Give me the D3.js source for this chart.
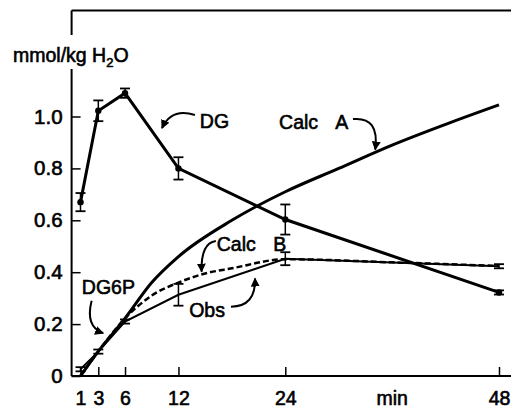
<!DOCTYPE html>
<html>
<head>
<meta charset="utf-8">
<script src="https://cdn.jsdelivr.net/npm/d3@7"></script>
<style>
  body { margin: 0; background: #fff; }
  text { font-family: "Liberation Sans", Arial, Helvetica, sans-serif; fill: #000; stroke: #000; stroke-width: 0.6px; }
</style>
</head>
<body>
<div class="chart"></div>
<script>
  const width = 511
  const height = 410

  // time points (min)
  const xTicks = [1, 3, 6, 12, 24, 48]
  const yTicks = [0, 0.2, 0.4, 0.6, 0.8, 1.0]

  // DG measured, mean and error
  const dgTime = [1, 3, 6, 12, 24, 48]
  const dgValue = [0.67, 1.022, 1.09, 0.80, 0.603, 0.322]
  const dgErr = [0.035, 0.04, 0.018, 0.043, 0.058, 0.008]

  // DG6P observed
  const obsTime = [1, 3, 6, 12, 24, 48]
  const obsValue = [0.026, 0.094, 0.21, 0.313, 0.452, 0.423]
  const obsErr = [0.008, 0.008, 0.008, 0.042, 0.025, 0.008]

  // calculated curves
  const calcATime = [1, 3, 6, 9, 12, 18, 24, 30, 36, 42, 48]
  const calcAValue = [0, 0.095, 0.222, 0.36, 0.46, 0.60, 0.71, 0.80, 0.89, 0.97, 1.045]
  const calcBTime = [1, 3, 6, 9, 12, 15, 18, 24, 36, 48]
  const calcBValue = [0, 0.095, 0.222, 0.31, 0.36, 0.395, 0.415, 0.45, 0.438, 0.424]

  const x = d3.scaleLinear().domain([0, 48]).range([71.6, 499])
  const y = d3.scaleLinear().domain([0, 1]).range([376, 116.5])
  const yTop = y.invert(10.5)

  const svg = d3.select('.chart').append('svg')
    .attr('width', width)
    .attr('height', height)

  svg.append('defs').append('marker')
    .attr('id', 'head')
    .attr('viewBox', '0 0 10 10')
    .attr('refX', 9).attr('refY', 5)
    .attr('markerWidth', 9).attr('markerHeight', 9)
    .attr('markerUnits', 'userSpaceOnUse')
    .attr('orient', 'auto')
    .append('path')
    .attr('d', 'M0,0 L10,5 L0,10 Z')
    .attr('fill', '#000')

  // frame: top line and axes
  svg.append('line')
    .attr('x1', x(0)).attr('x2', width)
    .attr('y1', y(yTop)).attr('y2', y(yTop))
    .attr('stroke', '#000').attr('stroke-width', 2)

  const xAxis = d3.axisBottom(x)
    .tickValues(xTicks)
    .tickSize(-9)
    .tickSizeOuter(0)
    .tickPadding(15)
  const gx = svg.append('g')
    .attr('transform', `translate(0, ${y(0)})`)
    .call(xAxis)
  gx.select('.domain').attr('d', `M${x(0)},0H${width}`).attr('stroke-width', 2)
  gx.selectAll('.tick line').attr('stroke-width', 1.5)
  gx.selectAll('.tick text').attr('font-size', 19.5)

  const yAxis = d3.axisLeft(y)
    .tickValues(yTicks)
    .tickSize(-9)
    .tickSizeOuter(0)
    .tickPadding(9)
    .tickFormat(d => d === 0 ? '0' : d3.format('.1f')(d))
  const gy = svg.append('g')
    .attr('transform', `translate(${x(0)}, 0)`)
    .call(yAxis)
  gy.select('.domain').attr('d', `M0,${y(yTop)}V${y(0)}`).attr('stroke-width', 2)
  gy.selectAll('.tick line').attr('stroke-width', 1.5)
  gy.selectAll('.tick text').attr('font-size', 20.5)

  svg.append('text')
    .attr('x', x(36)).attr('y', 405)
    .attr('text-anchor', 'middle')
    .attr('font-size', 19.5)
    .text('min')

  // y-axis label over the axis line
  svg.append('rect')
    .attr('x', 10).attr('y', 35).attr('width', 128).attr('height', 34)
    .attr('fill', '#fff')
  const ylab = svg.append('text')
    .attr('x', 13).attr('y', 62)
    .attr('font-size', 19.5)
  ylab.append('tspan').text('mmol/kg H')
  ylab.append('tspan').attr('font-size', 13).attr('dy', 5).text('2')
  ylab.append('tspan').attr('dy', -5).text('O')

  const line = d3.line()
    .x(d => x(d[0]))
    .y(d => y(d[1]))

  // Calc A
  svg.append('path')
    .datum(d3.zip(calcATime, calcAValue))
    .attr('d', line.curve(d3.curveMonotoneX))
    .attr('fill', 'none').attr('stroke', '#000').attr('stroke-width', 3)

  // Calc B
  svg.append('path')
    .datum(d3.zip(calcBTime, calcBValue))
    .attr('d', line.curve(d3.curveMonotoneX))
    .attr('fill', 'none').attr('stroke', '#000').attr('stroke-width', 2.5)
    .attr('stroke-dasharray', '6,3')

  // Obs
  const obs = d3.zip(obsTime, obsValue, obsErr)
  svg.append('path')
    .datum(obs)
    .attr('d', line.curve(d3.curveLinear))
    .attr('fill', 'none').attr('stroke', '#000').attr('stroke-width', 2)

  // DG
  const dg = d3.zip(dgTime, dgValue, dgErr)
  svg.append('path')
    .datum(dg)
    .attr('d', line.curve(d3.curveLinear))
    .attr('fill', 'none').attr('stroke', '#000').attr('stroke-width', 3)

  function errorBars(data, cls) {
    const g = svg.append('g').attr('class', cls)
      .selectAll('g').data(data).join('g')
    g.append('line')
      .attr('x1', d => x(d[0])).attr('x2', d => x(d[0]))
      .attr('y1', d => y(d[1] - d[2])).attr('y2', d => y(d[1] + d[2]))
      .attr('stroke', '#000').attr('stroke-width', 1.5)
    g.selectAll('.cap').data(d => [[d[0], d[1] - d[2]], [d[0], d[1] + d[2]]])
      .join('line').attr('class', 'cap')
      .attr('x1', d => x(d[0]) - 5).attr('x2', d => x(d[0]) + 5)
      .attr('y1', d => y(d[1])).attr('y2', d => y(d[1]))
      .attr('stroke', '#000').attr('stroke-width', 1.8)
    return g
  }

  errorBars(obs, 'obs-err')
  errorBars(dg, 'dg-err')
    .append('circle')
    .attr('cx', d => x(d[0])).attr('cy', d => y(d[1]))
    .attr('r', 3.2).attr('fill', '#000')

  // labels with curved arrows, positions in data units
  const labels = [
    { text: 'DG', t: 14.4, v: 0.955 },
    { text: 'Calc', t: 23.3, v: 0.952 },
    { text: 'A', t: 29.6, v: 0.952 },
    { text: 'Calc', t: 16.3, v: 0.482 },
    { text: 'B', t: 22.65, v: 0.482 },
    { text: 'Obs', t: 13.2, v: 0.229 },
    { text: 'DG6P', t: 1.15, v: 0.316 },
  ]
  svg.append('g').selectAll('text').data(labels).join('text')
    .attr('x', d => x(d.t)).attr('y', d => y(d.v))
    .attr('font-size', 19.5)
    .text(d => d.text)

  const arrows = [
    [[13.85, 1.006], [11.2, 1.035], [10.15, 0.955]],
    [[31.6, 0.99], [34.6, 1.0], [34.1, 0.872]],
    [[16.2, 0.52], [14.5, 0.512], [14.6, 0.402]],
    [[17.9, 0.267], [20.7, 0.268], [20.6, 0.376]],
    [[2.25, 0.29], [1.5, 0.19], [3.55, 0.165]],
  ]
  svg.append('g').selectAll('path').data(arrows).join('path')
    .attr('d', d => {
      const [a, c, b] = d
      return `M${x(a[0])},${y(a[1])}Q${x(c[0])},${y(c[1])} ${x(b[0])},${y(b[1])}`
    })
    .attr('fill', 'none').attr('stroke', '#000').attr('stroke-width', 2)
    .attr('marker-end', 'url(#head)')
</script>
</body>
</html>
